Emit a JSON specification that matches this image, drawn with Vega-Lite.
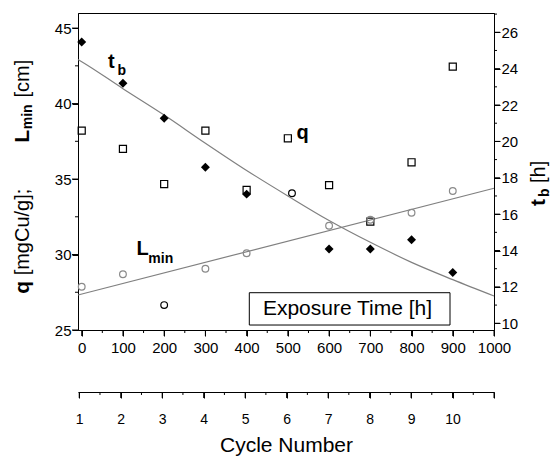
{
  "$schema": "https://vega.github.io/schema/vega-lite/v6.json",
  "width": 416,
  "height": 317,
  "autosize": {"type": "none"},
  "padding": {"left": 78, "top": 13, "right": 62, "bottom": 127},
  "background": "white",
  "config": {
    "font": "Liberation Sans",
    "view": {"stroke": "black", "strokeWidth": 1},
    "axis": {
      "grid": false,
      "domainColor": "black",
      "labelColor": "black",
      "labelFont": "Liberation Sans",
      "labelFontSize": 15,
      "titleColor": "black",
      "titleFont": "Liberation Sans"
    }
  },
  "datasets": {
    "q": [
      {"t": 0, "v": 38.21}, {"t": 100, "v": 37.0}, {"t": 200, "v": 34.67},
      {"t": 300, "v": 38.21}, {"t": 400, "v": 34.28}, {"t": 500, "v": 37.7},
      {"t": 600, "v": 34.6}, {"t": 700, "v": 32.18}, {"t": 800, "v": 36.11},
      {"t": 900, "v": 42.45}
    ],
    "lmin": [
      {"t": 0, "v": 27.87, "grp": "fit"}, {"t": 100, "v": 28.69, "grp": "fit"},
      {"t": 200, "v": 26.65, "grp": "excluded"}, {"t": 300, "v": 29.06, "grp": "fit"},
      {"t": 400, "v": 30.08, "grp": "fit"}, {"t": 510, "v": 34.06, "grp": "excluded"},
      {"t": 600, "v": 31.91, "grp": "fit"}, {"t": 700, "v": 32.3, "grp": "fit"},
      {"t": 800, "v": 32.77, "grp": "fit"}, {"t": 900, "v": 34.21, "grp": "fit"}
    ],
    "lfit": [{"t": -9, "v": 27.32}, {"t": 1000, "v": 34.39}],
    "tb": [
      {"t": 0, "v": 25.47}, {"t": 100, "v": 23.2}, {"t": 200, "v": 21.27},
      {"t": 300, "v": 18.58}, {"t": 400, "v": 17.1}, {"t": 600, "v": 14.08},
      {"t": 700, "v": 14.08}, {"t": 800, "v": 14.59}, {"t": 900, "v": 12.79}
    ],
    "tbfit": [
      {"t": -9, "v": 24.5}, {"t": 0, "v": 24.38}, {"t": 100, "v": 22.9},
      {"t": 200, "v": 21.45}, {"t": 300, "v": 19.9}, {"t": 400, "v": 18.4},
      {"t": 500, "v": 17.0}, {"t": 600, "v": 15.65}, {"t": 700, "v": 14.45},
      {"t": 800, "v": 13.35}, {"t": 900, "v": 12.4}, {"t": 1000, "v": 11.5}
    ],
    "cycles": [
      {"c": 1}, {"c": 2}, {"c": 3}, {"c": 4}, {"c": 5},
      {"c": 6}, {"c": 7}, {"c": 8}, {"c": 9}, {"c": 10}
    ],
    "xmajor": [
      {"t": 0}, {"t": 100}, {"t": 200}, {"t": 300}, {"t": 400}, {"t": 500},
      {"t": 600}, {"t": 700}, {"t": 800}, {"t": 900}, {"t": 1000}
    ],
    "xminor": [
      {"t": 50}, {"t": 150}, {"t": 250}, {"t": 350}, {"t": 450},
      {"t": 550}, {"t": 650}, {"t": 750}, {"t": 850}, {"t": 950}
    ],
    "lmajor": [{"v": 25}, {"v": 30}, {"v": 35}, {"v": 40}, {"v": 45}],
    "lminor": [{"v": 27.5}, {"v": 32.5}, {"v": 37.5}, {"v": 42.5}],
    "rmajor": [
      {"v": 10}, {"v": 12}, {"v": 14}, {"v": 16}, {"v": 18},
      {"v": 20}, {"v": 22}, {"v": 24}, {"v": 26}
    ],
    "rminor": [
      {"v": 11}, {"v": 13}, {"v": 15}, {"v": 17}, {"v": 19},
      {"v": 21}, {"v": 23}, {"v": 25}, {"v": 27}
    ],
    "cmajor": [
      {"c": 1}, {"c": 2}, {"c": 3}, {"c": 4}, {"c": 5}, {"c": 6},
      {"c": 7}, {"c": 8}, {"c": 9}, {"c": 10}, {"c": 11}
    ],
    "cminor": [
      {"c": 1.5}, {"c": 2.5}, {"c": 3.5}, {"c": 4.5}, {"c": 5.5},
      {"c": 6.5}, {"c": 7.5}, {"c": 8.5}, {"c": 9.5}, {"c": 10.5}
    ],
    "one": [{"k": 1}]
  },
  "layer": [
    {
      "layer": [
        {
          "data": {"name": "lfit"},
          "mark": {"type": "line", "color": "#808080", "strokeWidth": 1.2},
          "encoding": {
            "x": {
              "field": "t", "type": "quantitative",
              "scale": {"domain": [-9, 1000], "nice": false, "zero": false},
              "axis": {
                "tickCount": 10,
                "format": "d",
                "ticks": true,
                "tickSize": 6,
                "tickColor": "#000000",
                "labelPadding": 4,
                "labelFlush": false,
                "labelOverlap": false,
                "title": null
              }
            },
            "y": {
              "field": "v", "type": "quantitative",
              "scale": {"domain": [25, 46], "nice": false, "zero": false},
              "axis": {
                "tickCount": 5,
                "format": "d",
                "ticks": true,
                "tickSize": 6,
                "tickColor": "#000000",
                "labelPadding": 1,
                "labelFlush": false,
                "labelOverlap": false,
                "title": null
              }
            }
          }
        },
        {
          "data": {"name": "xmajor"},
          "mark": {"type": "rule", "color": "black", "strokeWidth": 1},
          "encoding": {
            "x": {"field": "t", "type": "quantitative"},
            "y": {"datum": 25, "type": "quantitative"},
            "y2": {"datum": 24.6}
          }
        },
        {
          "data": {"name": "xminor"},
          "mark": {"type": "rule", "color": "black", "strokeWidth": 1},
          "encoding": {
            "x": {"field": "t", "type": "quantitative"},
            "y": {"datum": 25, "type": "quantitative"},
            "y2": {"datum": 24.8}
          }
        },
        {
          "data": {"name": "lmajor"},
          "mark": {"type": "rule", "color": "black", "strokeWidth": 1},
          "encoding": {
            "y": {"field": "v", "type": "quantitative"},
            "x": {"datum": -9, "type": "quantitative"},
            "x2": {"datum": -23.55}
          }
        },
        {
          "data": {"name": "lminor"},
          "mark": {"type": "rule", "color": "black", "strokeWidth": 1},
          "encoding": {
            "y": {"field": "v", "type": "quantitative"},
            "x": {"datum": -9, "type": "quantitative"},
            "x2": {"datum": -16.28}
          }
        },
        {
          "data": {"name": "q"},
          "mark": {"type": "point", "shape": "square", "size": 50, "color": "black", "filled": false, "strokeWidth": 1.2, "opacity": 1},
          "encoding": {
            "x": {"field": "t", "type": "quantitative"},
            "y": {"field": "v", "type": "quantitative"}
          }
        },
        {
          "data": {"name": "lmin"},
          "mark": {"type": "point", "shape": "circle", "size": 45, "filled": false, "strokeWidth": 1.2, "opacity": 1},
          "encoding": {
            "x": {"field": "t", "type": "quantitative"},
            "y": {"field": "v", "type": "quantitative"},
            "color": {"field": "grp", "type": "nominal", "scale": {"domain": ["fit", "excluded"], "range": ["#8a8a8a", "#000000"]}, "legend": null}
          }
        },
        {
          "data": {"name": "one"},
          "mark": {"type": "rect", "fill": "white", "stroke": "black", "strokeWidth": 1},
          "encoding": {
            "x": {"datum": 406.5, "type": "quantitative"},
            "x2": {"datum": 893.3},
            "y": {"datum": 27.47, "type": "quantitative"},
            "y2": {"datum": 25.33}
          }
        },
        {
          "data": {"name": "one"},
          "mark": {"type": "text", "fontSize": 21, "align": "center", "baseline": "middle", "color": "black"},
          "encoding": {
            "x": {"datum": 644.7, "type": "quantitative"},
            "y": {"datum": 26.4, "type": "quantitative"},
            "text": {"value": "Exposure Time [h]"}
          }
        },
        {
          "data": {"name": "one"},
          "mark": {"type": "text", "fontSize": 20, "fontWeight": "bold", "align": "left", "baseline": "alphabetic", "color": "black"},
          "encoding": {
            "x": {"datum": 63.8, "type": "quantitative"},
            "y": {"datum": 42.36, "type": "quantitative"},
            "text": {"value": "t"}
          }
        },
        {
          "data": {"name": "one"},
          "mark": {"type": "text", "fontSize": 14, "fontWeight": "bold", "align": "left", "baseline": "alphabetic", "color": "black"},
          "encoding": {
            "x": {"datum": 86.8, "type": "quantitative"},
            "y": {"datum": 41.89, "type": "quantitative"},
            "text": {"value": "b"}
          }
        },
        {
          "data": {"name": "one"},
          "mark": {"type": "text", "fontSize": 20, "fontWeight": "bold", "align": "left", "baseline": "alphabetic", "color": "black"},
          "encoding": {
            "x": {"datum": 521, "type": "quantitative"},
            "y": {"datum": 37.65, "type": "quantitative"},
            "text": {"value": "q"}
          }
        },
        {
          "data": {"name": "one"},
          "mark": {"type": "text", "fontSize": 20, "fontWeight": "bold", "align": "left", "baseline": "alphabetic", "color": "black"},
          "encoding": {
            "x": {"datum": 132.9, "type": "quantitative"},
            "y": {"datum": 29.97, "type": "quantitative"},
            "text": {"value": "L"}
          }
        },
        {
          "data": {"name": "one"},
          "mark": {"type": "text", "fontSize": 14, "fontWeight": "bold", "align": "left", "baseline": "alphabetic", "color": "black"},
          "encoding": {
            "x": {"datum": 161.5, "type": "quantitative"},
            "y": {"datum": 29.44, "type": "quantitative"},
            "text": {"value": "min"}
          }
        },
        {
          "data": {"name": "one"},
          "mark": {"type": "text", "angle": 270, "fontSize": 21, "fontWeight": "bold", "align": "left", "baseline": "alphabetic", "color": "black"},
          "encoding": {
            "x": {"datum": -127.8, "type": "quantitative"},
            "y": {"datum": 37.4, "type": "quantitative"},
            "text": {"value": "L"}
          }
        },
        {
          "data": {"name": "one"},
          "mark": {"type": "text", "angle": 270, "fontSize": 14, "fontWeight": "bold", "align": "left", "baseline": "alphabetic", "color": "black"},
          "encoding": {
            "x": {"datum": -120.6, "type": "quantitative"},
            "y": {"datum": 38.3, "type": "quantitative"},
            "text": {"value": "min"}
          }
        },
        {
          "data": {"name": "one"},
          "mark": {"type": "text", "angle": 270, "fontSize": 20, "align": "left", "baseline": "alphabetic", "color": "black"},
          "encoding": {
            "x": {"datum": -127.8, "type": "quantitative"},
            "y": {"datum": 40.4, "type": "quantitative"},
            "text": {"value": "[cm]"}
          }
        },
        {
          "data": {"name": "one"},
          "mark": {"type": "text", "angle": 270, "fontSize": 21, "fontWeight": "bold", "align": "left", "baseline": "alphabetic", "color": "black"},
          "encoding": {
            "x": {"datum": -127.8, "type": "quantitative"},
            "y": {"datum": 27.4, "type": "quantitative"},
            "text": {"value": "q"}
          }
        },
        {
          "data": {"name": "one"},
          "mark": {"type": "text", "angle": 270, "fontSize": 20, "align": "left", "baseline": "alphabetic", "color": "black"},
          "encoding": {
            "x": {"datum": -127.8, "type": "quantitative"},
            "y": {"datum": 28.62, "type": "quantitative"},
            "text": {"value": "[mgCu/g];"}
          }
        },
        {
          "data": {"name": "one"},
          "mark": {"type": "text", "angle": 270, "fontSize": 21, "fontWeight": "bold", "align": "left", "baseline": "alphabetic", "color": "black"},
          "encoding": {
            "x": {"datum": 1123.7, "type": "quantitative"},
            "y": {"datum": 33.21, "type": "quantitative"},
            "text": {"value": "t"}
          }
        },
        {
          "data": {"name": "one"},
          "mark": {"type": "text", "angle": 270, "fontSize": 14, "fontWeight": "bold", "align": "left", "baseline": "alphabetic", "color": "black"},
          "encoding": {
            "x": {"datum": 1133.4, "type": "quantitative"},
            "y": {"datum": 33.81, "type": "quantitative"},
            "text": {"value": "b"}
          }
        },
        {
          "data": {"name": "one"},
          "mark": {"type": "text", "angle": 270, "fontSize": 20, "align": "left", "baseline": "alphabetic", "color": "black"},
          "encoding": {
            "x": {"datum": 1123.7, "type": "quantitative"},
            "y": {"datum": 34.74, "type": "quantitative"},
            "text": {"value": "[h]"}
          }
        }
      ]
    },
    {
      "layer": [
        {
          "data": {"name": "tbfit"},
          "mark": {"type": "line", "color": "#808080", "strokeWidth": 1.2, "interpolate": "monotone"},
          "encoding": {
            "x": {"field": "t", "type": "quantitative", "scale": {"domain": [-9, 1000], "nice": false, "zero": false}, "axis": null},
            "y": {
              "field": "v", "type": "quantitative",
              "scale": {"domain": [9.63, 27.06], "nice": false, "zero": false},
              "axis": {
                "orient": "right",
                "tickCount": 9,
                "format": "d",
                "ticks": true,
                "tickSize": 6,
                "tickColor": "#000000",
                "labelPadding": 1,
                "labelFlush": false,
                "labelOverlap": false,
                "title": null
              }
            }
          }
        },
        {
          "data": {"name": "rmajor"},
          "mark": {"type": "rule", "color": "black", "strokeWidth": 1},
          "encoding": {
            "y": {"field": "v", "type": "quantitative"},
            "x": {"datum": 1000, "type": "quantitative"},
            "x2": {"datum": 1014.55}
          }
        },
        {
          "data": {"name": "rminor"},
          "mark": {"type": "rule", "color": "black", "strokeWidth": 1},
          "encoding": {
            "y": {"field": "v", "type": "quantitative"},
            "x": {"datum": 1000, "type": "quantitative"},
            "x2": {"datum": 1007.28}
          }
        },
        {
          "data": {"name": "tb"},
          "mark": {"type": "point", "shape": "diamond", "size": 80, "color": "black", "filled": true, "opacity": 1},
          "encoding": {
            "x": {"field": "t", "type": "quantitative"},
            "y": {"field": "v", "type": "quantitative"}
          }
        }
      ]
    },
    {
      "layer": [
        {
          "data": {"name": "cycles"},
          "mark": {"type": "point", "opacity": 0},
          "encoding": {
            "x": {
              "field": "c", "type": "quantitative",
              "scale": {"domain": [0.97, 11], "nice": false, "zero": false},
              "axis": {
                "orient": "bottom",
                "offset": 62,
                "tickCount": 10,
                "format": "d",
                "labelExpr": "datum.value <= 10 ? datum.label : ''",
                "ticks": true,
                "tickSize": 6,
                "tickColor": "#000000",
                "labelPadding": 14,
                "labelFontSize": 14,
                "labelFlush": false,
                "labelOverlap": false,
                "title": "Cycle Number",
                "titleFontSize": 21,
                "titleFontWeight": "normal",
                "titlePadding": 8
              }
            }
          }
        },
        {
          "data": {"name": "cmajor"},
          "mark": {"type": "rule", "color": "black", "strokeWidth": 1},
          "encoding": {
            "x": {"field": "c", "type": "quantitative"},
            "y": {"datum": 20.893, "type": "quantitative", "scale": {"domain": [25, 46], "nice": false, "zero": false}, "axis": null},
            "y2": {"datum": 20.496}
          }
        },
        {
          "data": {"name": "cminor"},
          "mark": {"type": "rule", "color": "black", "strokeWidth": 1},
          "encoding": {
            "x": {"field": "c", "type": "quantitative"},
            "y": {"datum": 20.893, "type": "quantitative"},
            "y2": {"datum": 20.695}
          }
        }
      ]
    }
  ],
  "resolve": {
    "scale": {"x": "independent", "y": "independent"},
    "axis": {"x": "independent", "y": "independent"}
  }
}
